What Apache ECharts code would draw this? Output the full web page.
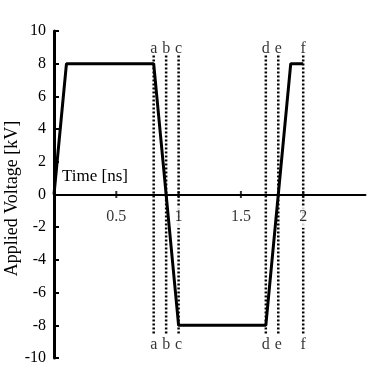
<!DOCTYPE html>
<html>
<head>
<meta charset="utf-8">
<script src="https://cdn.jsdelivr.net/npm/echarts@6/dist/echarts.min.js"></script>
<style>
html,body{margin:0;padding:0;background:#fff}
#chart{width:368px;height:366px}
</style>
</head>
<body>
<div id="chart"></div>
<script>
// 波形：时间(ns) / 电压(kV)
const TIMES=[0,0.1,0.8,1.0,1.7,1.9,2.0];
const VOLTS=[0,8,8,-8,-8,8,8];
// 虚线标记
const MARK_NAMES=['a','b','c','d','e','f'];
const MARK_TIMES=[0.8,0.9,1.0,1.7,1.8,2.0];
const MARK_SPAN=[-8.5,8.5];      // 虚线上下端
const MARK_LABEL_Y=[8.9,-9.2];   // 字母位置
const X_TICKS=[0.5,1,1.5,2];

const FONT='"Liberation Serif","DejaVu Serif",serif';
const CHART=echarts.init(document.getElementById('chart'));

const markSeries=MARK_TIMES.map((t,i)=>({
  type:'line',silent:true,symbol:'none',z:3,animation:false,
  lineStyle:{color:'#000',width:2.5,type:[2,2]},
  data:[[t,MARK_SPAN[0]],[t,MARK_SPAN[1]]]
}));
const markLabels={
  type:'scatter',symbolSize:0,silent:true,animation:false,z:4,
  label:{show:true,position:'inside',color:'#000',fontFamily:FONT,fontSize:16,
    formatter:p=>p.data[2]},
  data:MARK_TIMES.flatMap((t,i)=>MARK_LABEL_Y.map(y=>[t,y,MARK_NAMES[i]]))
};
// x 轴刻度跨越轴线上下，刻度文字白底（遮住虚线）
const xTickMarks={
  type:'scatter',symbol:'rect',symbolSize:[2,7],silent:true,z:7,
  itemStyle:{color:'#000'},
  label:{show:true,position:'bottom',distance:8,color:'#000',fontFamily:FONT,fontSize:16,
    backgroundColor:'#fff',padding:[3,2],formatter:p=>String(p.data[0])},
  data:X_TICKS.map(t=>[t,0])
};

CHART.setOption({
  animation:false,
  grid:{left:54,right:2.5,top:31,bottom:8,containLabel:false,outerBoundsMode:'none'},
  xAxis:{type:'value',min:0,max:2.5,interval:0.5,z:6,
    axisLine:{onZero:true,lineStyle:{color:'#000',width:2}},
    axisTick:{show:false},axisLabel:{show:false},
    splitLine:{show:false}},
  yAxis:{type:'value',min:-10,max:10,interval:2,z:6,
    name:'Applied Voltage [kV]',nameLocation:'middle',nameRotate:90,nameGap:33,
    nameMoveOverlap:false,
    nameTextStyle:{color:'#000',fontFamily:FONT,fontSize:18,padding:[0,8,0,0]},
    axisLine:{show:true,onZero:false,lineStyle:{color:'#000',width:3}},
    axisTick:{show:true,inside:true,length:5,lineStyle:{color:'#000',width:2}},
    axisLabel:{color:'#000',fontFamily:FONT,fontSize:16,margin:8},
    splitLine:{show:false}},
  graphic:[{type:'text',left:62,top:168,
    style:{text:'Time [ns]',fill:'#000',font:'17px '+FONT}}],
  series:[
    ...markSeries,
    markLabels,
    {type:'line',symbol:'none',z:5,
      lineStyle:{color:'#000',width:3},
      data:TIMES.map((t,i)=>[t,VOLTS[i]])},
    xTickMarks
  ]
});
</script>
</body>
</html>
